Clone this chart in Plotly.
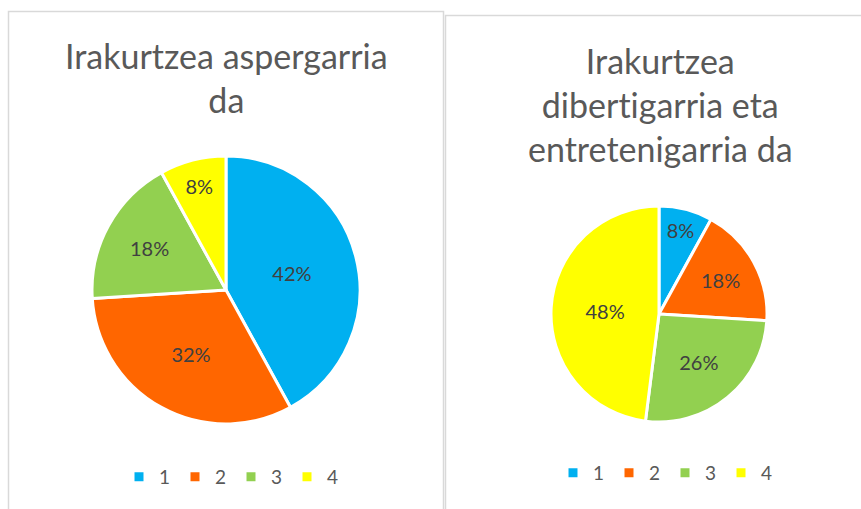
import plotly.graph_objects as go

W, H = 861, 509

categories = ["1", "2", "3", "4"]
left_values = [42, 32, 18, 8]
right_values = [8, 18, 26, 48]
ZW = "\u200c"  # zero-width non-joiner, only to stop the "ti" ligature
left_title = "Irakurtzea aspergarria<br>da"
right_title = "Irakurtzea<br>diber" + "t" + ZW + "igarria eta<br>entretenigarria da"
colors = ["#00B0F0", "#FF6600", "#92D050", "#FFFF00"]

FONT = "Lato"
TXT = "#595959"
LBL = "#404040"


def px(x):
    return x / W


def py(y):
    return 1 - y / H


fig = go.Figure()

fig.add_trace(go.Pie(
    labels=categories, values=left_values, sort=False, direction="clockwise",
    rotation=0, marker=dict(colors=colors, line=dict(color="white", width=3)),
    texttemplate="%{percent:.0%}", textposition="inside",
    insidetextorientation="horizontal",
    textfont=dict(family=FONT, size=20, color=LBL),
    domain=dict(x=[px(92), px(360)], y=[py(424), py(156)]),
    legend="legend", legendgroup="left", hoverinfo="label+percent",
))

fig.add_trace(go.Pie(
    labels=categories, values=right_values, sort=False, direction="clockwise",
    rotation=0, marker=dict(colors=colors, line=dict(color="white", width=3)),
    texttemplate="%{percent:.0%}", textposition="inside",
    insidetextorientation="horizontal",
    textfont=dict(family=FONT, size=20, color=LBL),
    domain=dict(x=[px(551), px(767)], y=[py(422), py(206)]),
    legend="legend2", legendgroup="right", hoverinfo="label+percent",
))

# panel borders
fig.add_shape(type="rect", xref="paper", yref="paper",
              x0=px(8.5), x1=px(443.5), y0=py(520), y1=py(11.5),
              line=dict(color="#D9D9D9", width=1.5), fillcolor="rgba(0,0,0,0)")
fig.add_shape(type="rect", xref="paper", yref="paper",
              x0=px(445.5), x1=px(875), y0=py(520), y1=py(15.5),
              line=dict(color="#D9D9D9", width=1.5), fillcolor="rgba(0,0,0,0)")

fig.add_annotation(text=left_title, xref="paper", yref="paper",
                   x=px(226), y=py(33), xanchor="center", yanchor="top",
                   showarrow=False, align="center",
                   font=dict(family=FONT, size=34, color=TXT))
fig.add_annotation(text=right_title, xref="paper", yref="paper",
                   x=px(660), y=py(38), xanchor="center", yanchor="top",
                   showarrow=False, align="center",
                   font=dict(family=FONT, size=34, color=TXT))

legend_common = dict(orientation="h", xanchor="center", yanchor="middle",
                     traceorder="normal",
                     font=dict(family=FONT, size=19, color=TXT),
                     bgcolor="rgba(0,0,0,0)", itemwidth=30,
                     entrywidth=11, entrywidthmode="pixels")

fig.update_layout(
    width=W, height=H,
    margin=dict(l=0, r=0, t=0, b=0),
    paper_bgcolor="white", plot_bgcolor="white",
    showlegend=True,
    legend=dict(x=px(231), y=py(477), **legend_common),
    legend2=dict(x=px(665), y=py(473), **legend_common),
)

fig.write_html("out.html", config={"displayModeBar": False},
               post_script="document.body.style.margin='0';")
